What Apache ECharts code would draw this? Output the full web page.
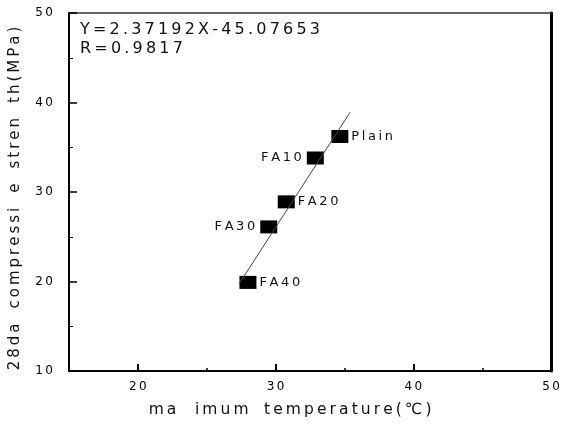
<!DOCTYPE html>
<html>
<head>
<meta charset="utf-8">
<script src="https://cdn.jsdelivr.net/npm/echarts@6/dist/echarts.min.js"></script>
<style>
html, body { margin: 0; padding: 0; background: #fff; }
#main { width: 563px; height: 424px; }
</style>
</head>
<body>
<div id="main"></div>
<script>
// data
var mixNames = ['Plain', 'FA10', 'FA20', 'FA30', 'FA40'];
var maxTemp = [34.66, 32.88, 30.77, 29.5, 27.99];
var strength28 = [36.2, 33.8, 28.9, 26.1, 19.9];
var fitX = [27.34, 35.4];
var fitY = [19.72, 38.9];
var xLabels = [20, 30, 40, 50];
var fitText = ['Y=2.37192X-45.07653', 'R=0.9817'];

var FONT = 'DejaVu Sans';

// the original uses wide letter spacing, fake it with thin spaces
function spaced(s) {
    return String(s).split('').join('\u2009');
}

var myChart = echarts.init(document.getElementById('main'));

var pts = mixNames.map(function (n, i) {
    var side = (n === 'FA10' || n === 'FA30') ? 'left' : 'right';
    return {
        name: n,
        value: [maxTemp[i], strength28[i]],
        label: { position: side, distance: side === 'left' ? 5 : 3 }
    };
});

option = {
    animation: false,
    grid: { left: 69, right: 7, top: 13, bottom: 53 },
    graphic: [
        {
            type: 'text', left: 80, top: 22,
            style: { text: spaced(fitText[0]), font: '16px ' + FONT, fill: '#111' }
        },
        {
            type: 'text', left: 80, top: 41,
            style: { text: spaced(fitText[1]), font: '16px ' + FONT, fill: '#111' }
        }
    ],
    xAxis: [
        {
            type: 'value', min: 15, max: 50, interval: 5,
            name: spaced('ma') + '\u2003\u2009' + spaced('imum') + '\u2003' + spaced('temperature(℃)'),
            nameLocation: 'middle', nameGap: 31,
            nameTextStyle: { fontFamily: FONT, fontSize: 15.5, color: '#111', padding: [0, 40, 0, 0] },
            splitLine: { show: false },
            axisLine: { lineStyle: { color: '#000', width: 2 } },
            axisTick: { inside: true, length: 7, customValues: [20, 30, 40], lineStyle: { color: '#000', width: 2 } },
            axisLabel: {
                customValues: xLabels, margin: 10, fontFamily: FONT, fontSize: 12, color: '#000',
                formatter: function (v) { return spaced(v); }
            }
        },
        {
            // minor ticks only
            type: 'value', min: 15, max: 50, interval: 5, position: 'bottom',
            splitLine: { show: false },
            axisLine: { show: false },
            axisTick: { inside: true, length: 3, customValues: [25, 35, 45], lineStyle: { color: '#000', width: 1.5 } },
            axisLabel: { show: false }
        },
        {
            type: 'value', min: 15, max: 50, position: 'top',
            splitLine: { show: false },
            axisLine: { lineStyle: { color: '#333', width: 1.5 } },
            axisTick: { show: false },
            axisLabel: { show: false }
        }
    ],
    yAxis: [
        {
            type: 'value', min: 10, max: 50, interval: 10,
            name: spaced('28da') + '\u2003' + spaced('compressi') + '\u2003' + 'e' + '\u2003' + spaced('stren') + '\u2003' + spaced('th(MPa)'),
            nameLocation: 'middle', nameGap: 46,
            nameTextStyle: { fontFamily: FONT, fontSize: 15, color: '#111', padding: [0, 13, 0, 0] },
            splitLine: { show: false },
            axisLine: { lineStyle: { color: '#000', width: 2 } },
            axisTick: { inside: true, length: 8, lineStyle: { color: '#000', width: 1.5 } },
            minorTick: { show: true, splitNumber: 2, length: 4, lineStyle: { color: '#000', width: 1 } },
            axisLabel: {
                margin: 16, fontFamily: FONT, fontSize: 12, color: '#000',
                formatter: function (v) { return spaced(v); }
            }
        },
        {
            type: 'value', min: 10, max: 50, position: 'right',
            splitLine: { show: false },
            axisLine: { lineStyle: { color: '#000', width: 3 } },
            axisTick: { show: false },
            axisLabel: { show: false }
        }
    ],
    series: [
        {
            name: 'fit',
            type: 'line',
            data: fitX.map(function (x, i) { return [x, fitY[i]]; }),
            showSymbol: false,
            lineStyle: { color: '#444', width: 1 },
            z: 3
        },
        {
            name: 'mix',
            type: 'scatter',
            data: pts,
            symbol: 'rect',
            symbolSize: [17, 13],
            itemStyle: { color: '#000', opacity: 1 },
            label: {
                show: true,
                fontFamily: FONT, fontSize: 13, color: '#111',
                formatter: function (p) { return spaced(p.name); }
            },
            z: 2
        }
    ]
};

myChart.setOption(option);
</script>
</body>
</html>
